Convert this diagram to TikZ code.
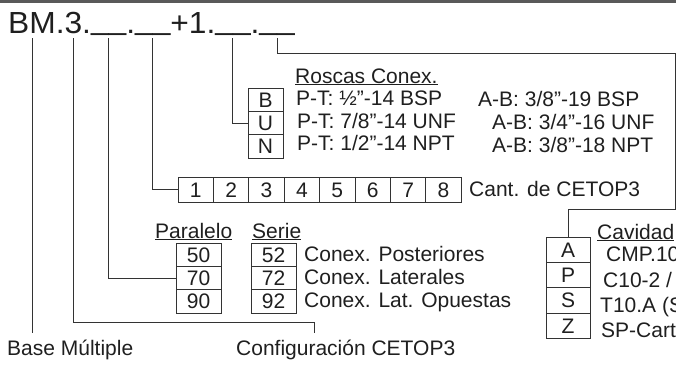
\documentclass[tikz,border=0pt]{standalone}
\usepackage{fontspec}
\setmainfont{Liberation Sans}
\usetikzlibrary{positioning}

\newcommand{\hueco}{\raisebox{4pt}{\_\_}}

\tikzset{
  txt/.style={anchor=base west, inner sep=0pt, text=black!88, font=\fontsize{21}{21}\selectfont},
  cell/.style={draw=black!80, line width=0.8pt, inner sep=0pt, outer sep=0pt,
    text height=15pt, text depth=0pt, text=black!88, font=\fontsize{21}{21}\selectfont},
  rosca/.style={cell, minimum width=35pt, minimum height=23.3pt},
  slot/.style={cell, minimum width=35.4pt, minimum height=25pt},
  conf/.style={cell, minimum width=45pt, minimum height=23.3pt},
  cav/.style={cell, minimum width=44pt, minimum height=25.3pt},
  lead/.style={draw=black!80, line width=0.8pt},
}

\begin{document}
\begin{tikzpicture}[x=1pt,y=-1pt]
            \useasboundingbox (0,0) rectangle (676,365);
            \clip (0,0) rectangle (676,365);

            \fill[black!65] (0,0) rectangle (676,2.5);

            \node[txt, font=\fontsize{30.5}{30.5}\selectfont] (code) at (8,33)
                {\scalebox{1.04}[1]{BM.3.\hueco.\hueco+1.\hueco.\hueco}};

            \coordinate (T1) at (32,38);
            \coordinate (T2) at (73,38);
            \coordinate (T3) at (108,38);
            \coordinate (T4) at (152,38);
            \coordinate (T5) at (232,38);
            \coordinate (T6) at (277,38);
            \coordinate (R1) at (675,53);
            \coordinate (R2) at (675,209);
            \coordinate (K0) at (32,333);
            \coordinate (K1) at (314,322.5);
            \coordinate (K2) at (314,333);

            \node[rosca] (rB) at (265.5,99.7) {B};
            \node[rosca, below=0pt of rB] (rU) {U};
            \node[rosca, below=0pt of rU] (rN) {N};

            \node[txt] (roscas) at (295,83) {\underline{Roscas Conex.}};
            \node[txt] (pt1) at (296,105.5) {P-T: ½”-14 BSP};
            \node[txt] (pt2) at (297,128.5) {P-T: 7/8”-14 UNF};
            \node[txt] (pt3) at (297,150.5) {P-T: 1/2”-14 NPT};
            \node[txt] (ab1) at (478,106.5) {A-B: 3/8”-19 BSP};
            \node[txt] (ab2) at (492,129.5) {A-B: 3/4”-16 UNF};
            \node[txt] (ab3) at (492,152) {A-B: 3/8”-18 NPT};

            \node[slot] (n1) at (195.7,189.5) {1};
            \node[slot, right=0pt of n1] (n2) {2};
            \node[slot, right=0pt of n2] (n3) {3};
            \node[slot, right=0pt of n3] (n4) {4};
            \node[slot, right=0pt of n4] (n5) {5};
            \node[slot, right=0pt of n5] (n6) {6};
            \node[slot, right=0pt of n6] (n7) {7};
            \node[slot, right=0pt of n7] (n8) {8};
            \node[txt] (cant) at (469,196.5) {Cant. de CETOP3};

            \node[txt] (paralelo) at (155,238) {\underline{Paralelo}};
            \node[txt] (serie) at (252,238) {\underline{Serie}};
            \node[conf] (p50) at (198.5,254.7) {50};
            \node[conf, below=0pt of p50] (p70) {70};
            \node[conf, below=0pt of p70] (p90) {90};
            \node[conf] (s52) at (273.5,254.7) {52};
            \node[conf, below=0pt of s52] (s72) {72};
            \node[conf, below=0pt of s72] (s92) {92};
            \node[txt] (post) at (304,261.5) {Conex. Posteriores};
            \node[txt] (lat) at (304,284.5) {Conex. Laterales};
            \node[txt] (opu) at (304,307) {Conex. Lat. Opuestas};

            \node[txt] (cavidad) at (597,239) {\underline{Cavidad}};
            \node[cav] (cA) at (568,249.7) {A};
            \node[cav, below=0pt of cA] (cP) {P};
            \node[cav, below=0pt of cP] (cS) {S};
            \node[cav, below=0pt of cS] (cZ) {Z};
            \node[txt] (cmp) at (606,261.5) {CMP.10};
            \node[txt] (c10) at (603,287) {C10-2 /};
            \node[txt] (t10) at (600,312) {T10.A (S};
            \node[txt] (spc) at (601,337.5) {SP-Cart};

            \node[txt] (base) at (7,355) {Base Múltiple};
            \node[txt] (config) at (236,355) {Configuración CETOP3};

            \draw[lead] (T1) -- (K0);
            \draw[lead] (T2) |- (K1) -- (K2);
            \draw[lead] (T3) |- (p70.west);
            \draw[lead] (T4) |- (n1.west);
            \draw[lead] (T5) |- (rU.west);
            \draw[lead] (T6) |- (R1) -- (R2) -| (cA.north);
        \end{tikzpicture}
\end{document}
